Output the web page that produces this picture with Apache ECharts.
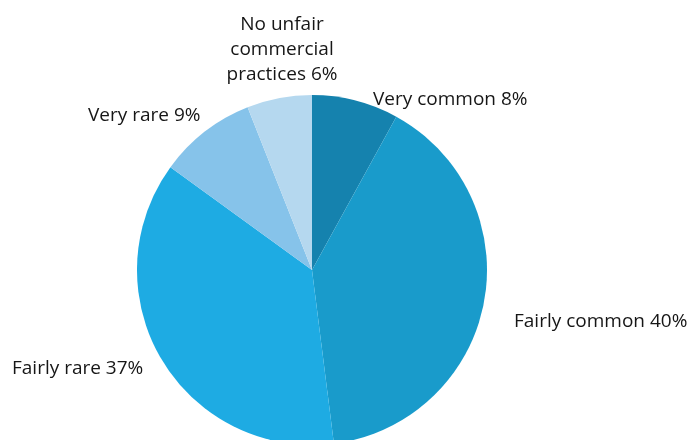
<!DOCTYPE html>
<html>
<head>
<meta charset="utf-8">
<script src="https://cdn.jsdelivr.net/npm/echarts@6/dist/echarts.min.js"></script>
<style>
  html, body { margin: 0; padding: 0; background: #ffffff; }
  #chart { width: 691px; height: 440px; }
</style>
</head>
<body>
<div id="chart"></div>
<script>
// Prevalence of unfair commercial practices (share of respondents, %)
const categories = [
  'Very common',
  'Fairly common',
  'Fairly rare',
  'Very rare',
  'No unfair\ncommercial\npractices'
];
const values = [8, 40, 37, 9, 6];
const colors = ['#1582ae', '#199bcb', '#1eabe3', '#86c3ea', '#b5d8ef'];

// Label anchor points [x, y, align] for each slice
const labelSpots = [
  [373, 100, 'left'],
  [514, 322, 'left'],
  [12, 369, 'left'],
  [88, 116, 'left'],
  [282, 50, 'center']
];

const chart = echarts.init(document.getElementById('chart'), null, { renderer: 'canvas' });

chart.setOption({
  animation: false,
  backgroundColor: '#ffffff',
  series: [{
    type: 'pie',
    center: [312, 270],
    radius: 175,
    startAngle: 90,
    clockwise: true,
    data: categories.map((name, i) => ({
      name: name,
      value: values[i],
      itemStyle: { color: colors[i] }
    })),
    label: {
      show: true,
      position: 'outside',
      formatter: p => p.name + ' ' + p.value + '%',
      fontFamily: 'Open Sans',
      fontSize: 19,
      lineHeight: 25,
      color: '#161616',
      overflow: 'none',
      edgeDistance: 0
    },
    labelLine: { show: false },
    labelLayout: function (params) {
      const s = labelSpots[params.dataIndex];
      return { x: s[0], y: s[1], align: s[2], verticalAlign: 'middle' };
    },
    emphasis: { disabled: true }
  }]
});
</script>
</body>
</html>
